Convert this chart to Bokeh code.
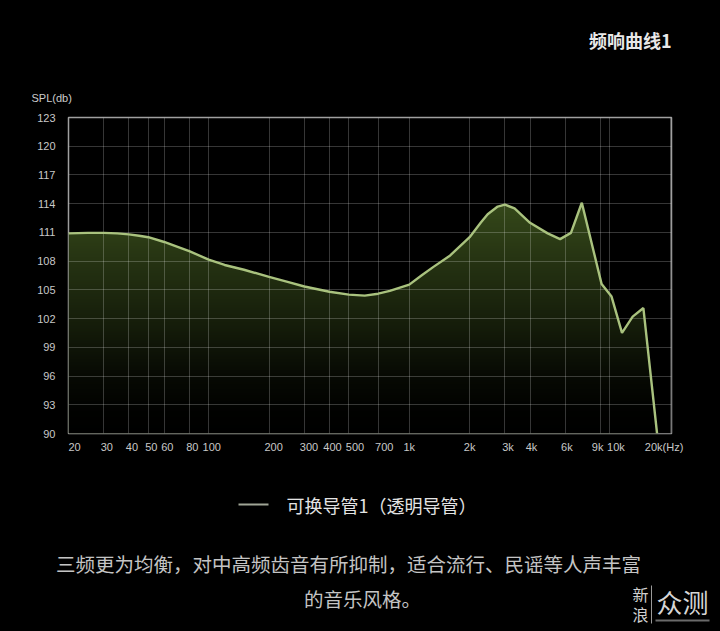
import numpy as np
from bokeh.plotting import figure
from bokeh.layouts import column, row
from bokeh.models import FixedTicker, Range1d
from bokeh.core.properties import value
from bokeh.embed import file_html
from bokeh.resources import INLINE

# ---- data ----
freq = [20, 25, 30, 35, 40, 45, 50, 60, 70, 80, 100, 120, 150, 200, 250, 300,
        400, 500, 600, 700, 800, 1000, 1150, 1320, 1600, 2000, 2280, 2460,
        2760, 3000, 3350, 4000, 4900, 5650, 6400, 7250, 9100, 10200, 11500,
        13000, 14700, 17200]
spl = [110.9, 110.95, 110.95, 110.9, 110.8, 110.65, 110.5, 110.0, 109.5,
       109.05, 108.15, 107.6, 107.1, 106.35, 105.8, 105.35, 104.8, 104.5,
       104.4, 104.6, 104.9, 105.55, 106.5, 107.4, 108.6, 110.5, 112.05,
       112.9, 113.7, 113.9, 113.5, 112.0, 110.9, 110.3, 110.95, 114.1, 105.6,
       104.3, 100.5, 102.2, 103.1, 90.0]

x_ticks = [20, 30, 40, 50, 60, 80, 100, 200, 300, 400, 500, 700, 1000, 2000,
           3000, 4000, 6000, 9000, 10000, 20000]
x_tick_labels = ["20", "30", "40", "50", "60", "80", "100", "200", "300",
                 "400", "500", "700", "1k", "2k", "3k", "4k", "6k", "9k",
                 "10k", "20k(Hz)"]
y_ticks = [90, 93, 96, 99, 102, 105, 108, 111, 114, 117, 120, 123]

title_text = "频响曲线1"
y_unit = "SPL(db)"
series_name = "可换导管1（透明导管）"
desc_line1 = "三频更为均衡，对中高频齿音有所抑制，适合流行、民谣等人声丰富"
desc_line2 = "的音乐风格。"
mark_a = "新"
mark_b = "浪"
mark_c = "众测"

# ---- layout constants ----
W = 720
H_TOP, H_MAIN, H_BOT = 105, 353, 173
BL, BR, BT, BB = 68, 49, 12, 25
BG = "#000000"
CJK = "Noto Sans CJK SC"
NUM = "Liberation Sans"
DARK = {"background-color": BG}


def blank(h, y0):
    f = figure(width=W, height=h, x_range=Range1d(0, W),
               y_range=Range1d(y0 + h, y0), x_axis_location=None,
               y_axis_location=None, min_border=0,
               output_backend="svg", toolbar_location=None, styles=DARK)
    f.outline_line_color = None
    f.background_fill_color = BG
    f.border_fill_color = BG
    f.xgrid.visible = False
    f.ygrid.visible = False
    return f


# ---- top strip: title and unit ----
top = blank(H_TOP, 0)
top.text(x=[671], y=[39], text=[title_text], text_font=value(CJK),
         text_font_size="18px", text_font_style="bold", text_color="#e8e8e8",
         text_align="right", text_baseline="middle")
top.text(x=[31], y=[97], text=[y_unit], text_font=value(NUM),
         text_font_size="11px", text_color="#cccccc",
         text_align="left", text_baseline="middle")

# ---- main chart ----
p = figure(width=W, height=H_MAIN, x_axis_type="log",
           x_range=Range1d(20, 20300), y_range=Range1d(90, 123),
           output_backend="svg", toolbar_location=None, styles=DARK)
p.min_border_left = BL
p.min_border_right = BR
p.min_border_top = BT
p.min_border_bottom = BB
p.background_fill_color = BG
p.border_fill_color = BG
p.outline_line_color = "#a0a0a0"
p.outline_line_width = 1.5

p.varea(x=freq, y1=90, y2=spl, fill_color="#35481a", level="image")
ny = 240
ys = np.linspace(90, 114, ny)
stops_y = [90, 93, 96, 99, 102, 105, 108, 111, 114]
stops_f = [0.0, 0.04, 0.13, 0.28, 0.43, 0.57, 0.71, 0.86, 1.0]
fac = np.interp(ys, stops_y, stops_f)
alpha = (255 * (1 - fac)).astype(np.uint32)
img = np.zeros((ny, 2), dtype=np.uint32)
img[:, 0] = alpha << 24
img[:, 1] = alpha << 24
p.image_rgba(image=[img], x=20, y=90, dw=20280, dh=24, level="image")

p.line(freq, spl, line_color="#a9c27e", line_width=2.4)

for ax in (p.xaxis[0], p.yaxis[0]):
    ax.axis_line_color = None
    ax.major_tick_line_color = None
    ax.minor_tick_line_color = None
    ax.major_tick_out = 0
    ax.major_tick_in = 0
    ax.major_label_text_color = "#c8c8c8"
    ax.major_label_text_font = NUM
    ax.major_label_text_font_size = "11px"

NB = "\u00a0"
pad_l = [4, 2, 2, 2, 2, 2, 2, 3, 3, 2, 4, 4, 0, 0, 2, 1, 1, 0, 4, 0]
pad_r = [0, 0, 0, 0, 0, 0, 0, 0, 0, 0, 0, 0, 0, 0, 0, 0, 0, 2, 0, 4]
p.xaxis.ticker = FixedTicker(ticks=x_ticks)
p.xaxis.major_label_overrides = {
    t: NB * a + l + NB * b
    for t, l, a, b in zip(x_ticks, x_tick_labels, pad_l, pad_r)}
p.xaxis.major_label_standoff = 7
p.yaxis.ticker = FixedTicker(ticks=y_ticks)
p.yaxis.major_label_overrides = {t: str(t) for t in y_ticks}
p.yaxis.major_label_standoff = 13

p.xgrid.ticker = FixedTicker(ticks=x_ticks)
p.ygrid.ticker = FixedTicker(ticks=y_ticks)
for g in (p.xgrid[0], p.ygrid[0]):
    g.grid_line_color = "#ffffff"
    g.grid_line_alpha = 0.21
    g.grid_line_width = 1

# ---- bottom strip: legend, description, watermark ----
y0b = H_TOP + H_MAIN
bot = blank(H_BOT, y0b)
bot.segment(x0=[238], y0=[504], x1=[268], y1=[504],
            line_color="#a0a596", line_width=2)
bot.text(x=[286], y=[504], text=[series_name], text_font=value(CJK),
         text_font_size="18px", text_color="#e4e4e4",
         text_align="left", text_baseline="middle")
bot.text(x=[348], y=[563], text=[desc_line1], text_font=value(CJK),
         text_font_size="19.5px", text_color="#c4c4c4",
         text_align="center", text_baseline="middle")
bot.text(x=[362], y=[598], text=[desc_line2], text_font=value(CJK),
         text_font_size="19.5px", text_color="#c4c4c4",
         text_align="center", text_baseline="middle")
bot.text(x=[640, 640], y=[593, 613], text=[mark_a, mark_b],
         text_font=value(CJK), text_font_size="16px", text_color="#d0d0d0",
         text_align="center", text_baseline="middle")
bot.text(x=[682], y=[601], text=[mark_c], text_font=value(CJK),
         text_font_size="26px", text_color="#d6d6d6",
         text_align="center", text_baseline="middle")
bot.segment(x0=[651, 655], y0=[585, 620], x1=[651, 709], y1=[623, 620],
            line_color=["#9a9a9a", "#6a6a6a"], line_width=[1, 2])

layout = column(row(top, styles=DARK), row(p, styles=DARK),
                row(bot, styles=DARK), spacing=0, styles=DARK)
html = file_html(layout, INLINE)
html = html.replace(
    "</head>",
    "<style>html, body { background-color: #000000 !important; }</style>\n</head>",
    1)
open("out.html", "w").write(html)
